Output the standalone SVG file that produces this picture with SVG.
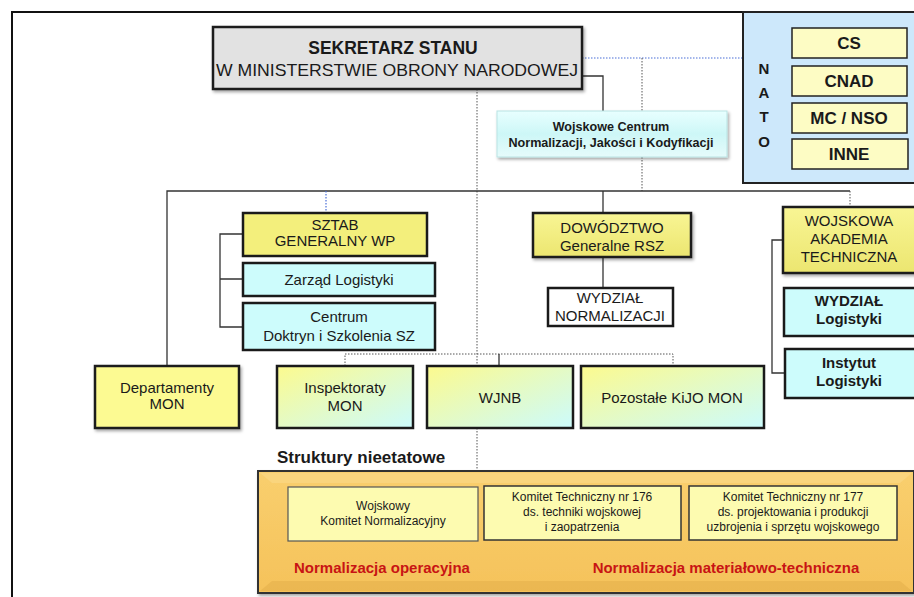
<svg xmlns="http://www.w3.org/2000/svg" width="914" height="597" viewBox="0 0 914 597">
<defs>
<style>
text{font-family:"Liberation Sans",Arial,sans-serif;fill:#1a1a1a;text-anchor:middle}
.b{font-weight:bold}
.n{font-size:15px}
.s{font-size:12px}
.box{stroke:#1a1a1a;stroke-width:2.5}
.solid{stroke:#333;stroke-width:1.3;fill:none}
.dot{stroke:#555;stroke-width:1;stroke-dasharray:1.5 1.5;fill:none}
.bdot{stroke:#4a6fd8;stroke-width:1.2;stroke-dasharray:1.5 1.5;fill:none}
.red{fill:#c81414;font-weight:bold;font-size:15px}
.nato{font-weight:bold;font-size:17px}
</style>
<linearGradient id="yc" x1="0" y1="0" x2="1" y2="1">
<stop offset="0" stop-color="#fcfa8e"/><stop offset="1" stop-color="#ccfbfd"/>
</linearGradient>
<linearGradient id="yel" x1="0" y1="0" x2="0" y2="1">
<stop offset="0" stop-color="#f8f594"/><stop offset="1" stop-color="#ece670"/>
</linearGradient>
<linearGradient id="cyg" x1="0" y1="0" x2="0" y2="1">
<stop offset="0" stop-color="#e8ffff"/><stop offset="0.5" stop-color="#cdf7f7"/><stop offset="1" stop-color="#e6fbfb"/>
</linearGradient>
<linearGradient id="org" x1="0" y1="0" x2="0" y2="1">
<stop offset="0" stop-color="#f9cf6e"/><stop offset="1" stop-color="#f5c25a"/>
</linearGradient>
<filter id="sh" x="-10%" y="-10%" width="125%" height="140%">
<feDropShadow dx="1.5" dy="2" stdDeviation="1.5" flood-color="#000" flood-opacity="0.35"/>
</filter>
</defs>
<rect width="914" height="597" fill="#fff"/>
<path d="M12 597 V12 H914" fill="none" stroke="#111" stroke-width="2"/>

<g id="connectors">
<path class="bdot" d="M582 58 H779 M792 43 H779 V154 H792"/>
<path class="dot" d="M642 58 V191"/>
<path class="dot" d="M477 89 V471"/>
<path class="solid" d="M582 76 H603 V111"/>
<path class="solid" d="M167 366 V191 H850"/>
<path class="dot" d="M850 191 V207"/>
<path class="bdot" d="M326 191 V213"/>
<path class="solid" d="M603 191 V213"/>
<path class="solid" d="M603 257 V288"/>
<path class="solid" d="M243 234 H220 V327 H243 M220 279 H243"/>
<path class="solid" d="M783 240 H772 V373 H785"/>
<path class="dot" d="M345 366 V354 H673 V366"/>
<path class="solid" d="M499 354 V366"/>
</g>

<g id="nato">
<rect x="743" y="12" width="173" height="171" fill="#cde8fb" stroke="#222" stroke-width="2"/>
<text class="b" x="764" y="74" font-size="15">N</text>
<text class="b" x="764" y="98" font-size="15">A</text>
<text class="b" x="764" y="122" font-size="15">T</text>
<text class="b" x="764" y="147" font-size="15">O</text>
</g>
<g id="cs"><rect x="792" y="28" width="115" height="30" fill="#fdfcc4" stroke="#222" stroke-width="1.5"/><text class="nato" x="849" y="49">CS</text></g>
<g id="cnad"><rect x="792" y="66" width="115" height="30" fill="#fdfcc4" stroke="#222" stroke-width="1.5"/><text class="nato" x="849" y="87">CNAD</text></g>
<g id="mcnso"><rect x="792" y="103" width="115" height="30" fill="#fdfcc4" stroke="#222" stroke-width="1.5"/><text class="nato" x="849" y="124">MC / NSO</text></g>
<g id="inne"><rect x="792" y="139" width="116" height="30" fill="#fdfcc4" stroke="#222" stroke-width="1.5"/><text class="nato" x="849" y="160">INNE</text></g>

<g id="sekretarz">
<rect x="213" y="27" width="369" height="62" fill="#e2e2e2" class="box" filter="url(#sh)"/>
<text class="b" x="393" y="54" font-size="17.5">SEKRETARZ STANU</text>
<text x="397" y="76" font-size="17" textLength="362" lengthAdjust="spacingAndGlyphs">W MINISTERSTWIE OBRONY NARODOWEJ</text>
</g>

<g id="wcnjk">
<rect x="497" y="111" width="230" height="46" fill="url(#cyg)" stroke="#b9e3e3" stroke-width="1" filter="url(#sh)"/>
<text class="b" x="611" y="131" font-size="12.6">Wojskowe Centrum</text>
<text class="b" x="611" y="147" font-size="12.6">Normalizacji, Jakości i Kodyfikacji</text>
</g>

<g id="sztab">
<rect x="243" y="213" width="184" height="43" fill="#f3ef7c" class="box" stroke-width="2"/>
<text class="n" x="335" y="230">SZTAB</text>
<text class="n" x="335" y="246">GENERALNY WP</text>
</g>
<g id="zarzad">
<rect x="243" y="263" width="192" height="33" fill="#cdfcfc" class="box" stroke-width="2"/>
<text class="n" x="339" y="285">Zarząd Logistyki</text>
</g>
<g id="cdiszsz">
<rect x="243" y="303" width="192" height="47" fill="#cdfcfc" class="box" stroke-width="2"/>
<text class="n" x="339" y="322">Centrum</text>
<text class="n" x="339" y="341">Doktryn i Szkolenia SZ</text>
</g>

<g id="dowodztwo">
<rect x="533" y="213" width="158" height="44" fill="url(#yel)" class="box" filter="url(#sh)"/>
<text class="n" x="612" y="233">DOWÓDZTWO</text>
<text class="n" x="612" y="251">Generalne RSZ</text>
</g>
<g id="wydzial-norm">
<rect x="548" y="288" width="125" height="38" fill="#fff" class="box"/>
<text class="n" x="610" y="303">WYDZIAŁ</text>
<text class="n" x="610" y="321">NORMALIZACJI</text>
</g>

<g id="wat">
<rect x="783" y="207" width="133" height="66" fill="url(#yel)" class="box" filter="url(#sh)"/>
<text class="n" x="849" y="226">WOJSKOWA</text>
<text class="n" x="849" y="244">AKADEMIA</text>
<text class="n" x="849" y="262">TECHNICZNA</text>
</g>
<g id="wydzial-log">
<rect x="784" y="288" width="132" height="48" fill="#cdfcfc" class="box" stroke-width="2"/>
<text class="n b" x="849" y="306">WYDZIAŁ</text>
<text class="n b" x="849" y="324">Logistyki</text>
</g>
<g id="instytut">
<rect x="785" y="349" width="131" height="49" fill="#cdfcfc" class="box" stroke-width="2"/>
<text class="n b" x="849" y="368">Instytut</text>
<text class="n b" x="849" y="386">Logistyki</text>
</g>

<g id="departamenty">
<rect x="95" y="366" width="144" height="62" fill="#fcfa92" class="box" filter="url(#sh)"/>
<text class="n" x="167" y="393">Departamenty</text>
<text class="n" x="167" y="409">MON</text>
</g>
<g id="inspektoraty">
<rect x="277" y="366" width="136" height="62" fill="url(#yc)" class="box" stroke-width="2"/>
<text class="n" x="345" y="393">Inspektoraty</text>
<text class="n" x="345" y="411">MON</text>
</g>
<g id="wjnb">
<rect x="427" y="366" width="146" height="62" fill="url(#yc)" class="box" stroke-width="2"/>
<text class="n" x="500" y="403">WJNB</text>
</g>
<g id="kijo">
<rect x="581" y="366" width="183" height="62" fill="url(#yc)" class="box" stroke-width="2"/>
<text class="n" x="672" y="403">Pozostałe KiJO MON</text>
</g>

<text class="b" x="277" y="463" font-size="17" style="text-anchor:start">Struktury nieetatowe</text>

<g id="nieetatowe">
<rect x="258" y="471" width="656" height="122" fill="url(#org)" stroke="#333" stroke-width="2" filter="url(#sh)"/>
<path d="M260 473 L272 483 H900 L912 473 Z" fill="#fbdc8e" opacity="0.5"/>
<path d="M260 591 L272 581 H900 L912 591 Z" fill="#d9a440" opacity="0.35"/>
<text class="red" x="382" y="573">Normalizacja operacyjna</text>
<text class="red" x="726" y="573">Normalizacja materiałowo-techniczna</text>
</g>
<g id="wkn">
<rect x="288" y="487" width="190" height="54" fill="#fdfbb0" stroke="#555" stroke-width="1.2"/>
<text class="s" x="383" y="510">Wojskowy</text>
<text class="s" x="383" y="525">Komitet Normalizacyjny</text>
</g>
<g id="kt176">
<rect x="484" y="486" width="197" height="54" fill="#fdfbb0" stroke="#333" stroke-width="1.5"/>
<text class="s" x="582" y="501">Komitet Techniczny nr 176</text>
<text class="s" x="582" y="516">ds. techniki wojskowej</text>
<text class="s" x="582" y="531">i zaopatrzenia</text>
</g>
<g id="kt177">
<rect x="689" y="486" width="208" height="54" fill="#fdfbb0" stroke="#333" stroke-width="1.5"/>
<text class="s" x="793" y="501">Komitet Techniczny nr 177</text>
<text class="s" x="793" y="516">ds. projektowania i produkcji</text>
<text class="s" x="793" y="531">uzbrojenia  i sprzętu wojskowego</text>
</g>
</svg>
